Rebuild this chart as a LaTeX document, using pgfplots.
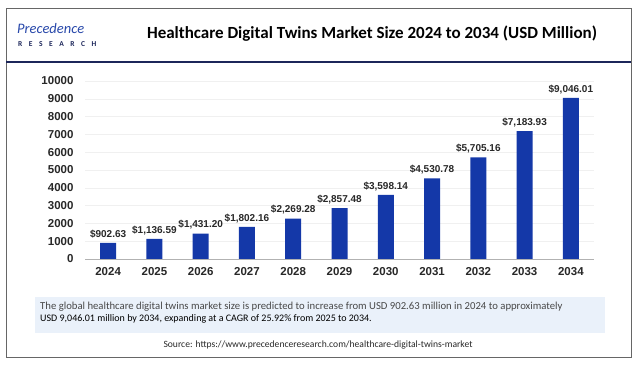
\documentclass[border=0pt]{standalone}
\usepackage{fontspec}
\setmainfont{Carlito}
\newfontfamily\arialfont{Liberation Sans}
\usepackage{pgfplots}
\pgfplotsset{compat=1.18}
\usepackage{pgfplotstable}
\definecolor{barblue}{RGB}{20,56,168}
\definecolor{navy}{RGB}{28,38,90}
\definecolor{logoblue}{RGB}{40,72,170}
\definecolor{boxbg}{RGB}{234,241,250}
\definecolor{txt}{RGB}{40,40,40}
\pgfplotstableread{
x val label
0 902.63 \$902.63
1 1136.59 \$1,136.59
2 1431.20 \$1,431.20
3 1802.16 \$1,802.16
4 2269.28 \$2,269.28
5 2857.48 \$2,857.48
6 3598.14 \$3,598.14
7 4530.78 \$4,530.78
8 5705.16 \$5,705.16
9 7183.93 \$7,183.93
10 9046.01 \$9,046.01
}\datatable
\begin{document}
\begin{tikzpicture}[x=1pt,y=1pt]
\path[use as bounding box] (0,0) rectangle (639,-365);
\fill[white] (0,0) rectangle (639,-365);
\draw[gray!80!black, line width=0.8pt] (6,-8) rectangle (631,-357);
\draw[navy, line width=1.4pt] (6,-62) -- (631,-62);
% logo
\node[anchor=west, inner sep=0] at (17,-29) {\color{logoblue}\itshape\fontsize{14.5}{15}\selectfont Precedence};
\node[anchor=west, inner sep=0] at (18,-44) {\color{navy}\bfseries\fontsize{7.5}{8}\selectfont R\hspace{6.5pt}E\hspace{6.5pt}S\hspace{6.5pt}E\hspace{6.5pt}A\hspace{6.5pt}R\hspace{6.5pt}C\hspace{6.5pt}H};
% title
\node at (372,-34) {\color{black}\bfseries\fontsize{17}{19}\selectfont Healthcare Digital Twins Market Size 2024 to 2034 (USD Million)};
% chart
\begin{axis}[
  at={(85pt,-259pt)}, anchor=south west,
  scale only axis, width=509pt, height=178pt,
  xmin=-0.5, xmax=10.5, ymin=0, ymax=10000,
  axis line style={draw=none},
  major tick length=0pt,
  ymajorgrids, grid style={gray!12},
  ytick={0,1000,...,10000},
  scaled y ticks=false,
  /pgf/number format/1000 sep={},
  /pgf/number format/assume math mode=true,
  xtick=data,
  xticklabels={2024,2025,2026,2027,2028,2029,2030,2031,2032,2033,2034},
  ticklabel style={font=\arialfont\bfseries\fontsize{11.5}{13}\selectfont, text=txt},
  yticklabel style={xshift=-8pt},
  xticklabel style={yshift=-5pt},
  clip=false,
]
\addplot[ybar, bar width=16pt, fill=barblue, draw=none,
  point meta=explicit symbolic,
  nodes near coords,
  every node near coord/.append style={font=\arialfont\bfseries\fontsize{10}{12}\selectfont, text=txt, inner sep=2pt, yshift=2pt}]
  table[x=x, y=val, meta=label] {\datatable};
\draw[gray!60, line width=0.8pt] (axis cs:-0.5,0) -- (axis cs:10.5,0);
\end{axis}
% description box
\fill[boxbg] (35,-297) rectangle (605,-333);
\node[anchor=north west, inner sep=0, align=left] at (40,-302) {\color{txt!85!white}\fontsize{10.7}{14.5}\selectfont The global healthcare digital twins market size is predicted to increase from USD 902.63 million in 2024 to approximately\\ USD 9,046.01 million by 2034, expanding at a CAGR of 25.92\% from 2025 to 2034.};
\node at (318,-345) {\color{txt}\fontsize{9.6}{11}\selectfont Source: https://www.precedenceresearch.com/healthcare-digital-twins-market};
\end{tikzpicture}
\end{document}
